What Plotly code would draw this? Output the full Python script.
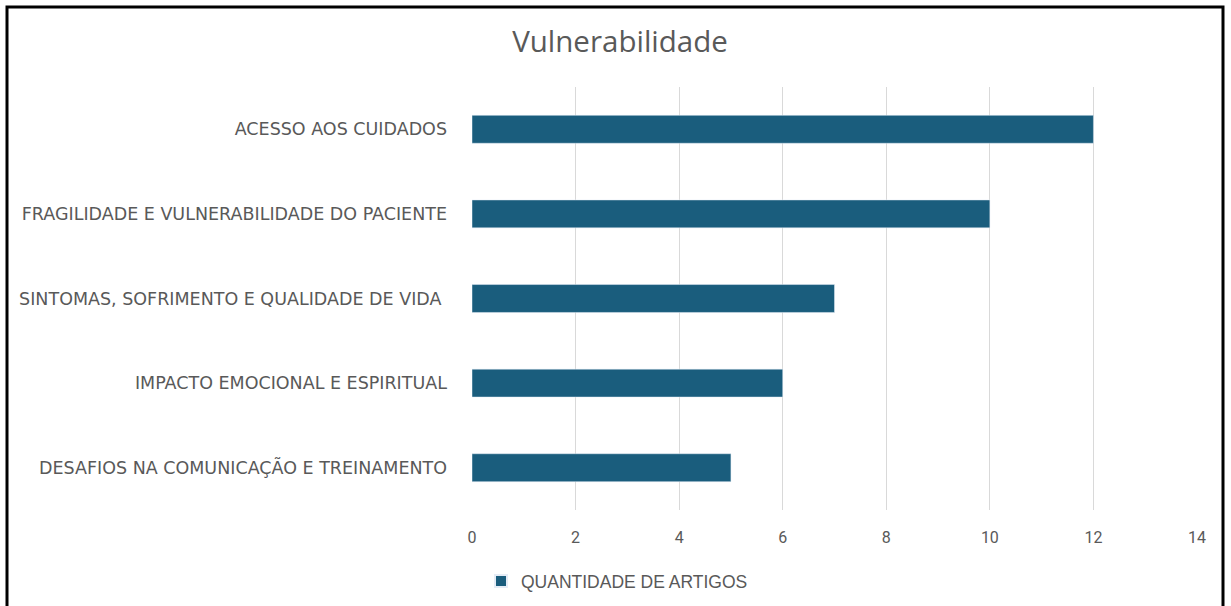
import plotly.graph_objects as go

categories = [
    "ACESSO AOS CUIDADOS",
    "FRAGILIDADE E VULNERABILIDADE DO PACIENTE",
    "SINTOMAS, SOFRIMENTO E QUALIDADE DE VIDA ",
    "IMPACTO EMOCIONAL E ESPIRITUAL",
    "DESAFIOS NA COMUNICAÇÃO E TREINAMENTO",
]
values = [12, 10, 7, 6, 5]
series_name = "QUANTIDADE DE ARTIGOS"
x_ticks = [0, 2, 4, 6, 8, 10, 12, 14]

W, H = 1231, 606
L, R, T, B = 472, 34, 87, 96
pw, ph = W - L - R, H - T - B

def px_x(p):
    return (p - L) / pw

def px_y(p):
    return (H - B - p) / ph

fig = go.Figure()
fig.add_trace(go.Bar(
    y=categories, x=values, orientation="h", name=series_name,
    marker=dict(color="#1a5d7d"), width=0.33, showlegend=True,
))

fig.update_layout(
    width=W, height=H,
    margin=dict(l=L, r=R, t=T, b=B, autoexpand=False),
    paper_bgcolor="white", plot_bgcolor="white",
    title=dict(text="Vulnerabilidade", x=(513 + 727) / 2 / W, xanchor="center", xref="container",
               y=1 - 42 / H, yanchor="middle", yref="container",
               font=dict(family="Open Sans", size=29.5, color="#595959")),
    font=dict(family="DejaVu Sans", size=16, color="#595959"),
    xaxis=dict(range=[0, 14], tickvals=x_ticks, showgrid=True, gridcolor="#d9d9d9",
               gridwidth=1, zeroline=False, showline=False, ticks="",
               ticklabelstandoff=16, tickfont=dict(family="Roboto", size=16, color="#595959")),
    yaxis=dict(categoryorder="array", categoryarray=categories[::-1],
               showgrid=False, zeroline=False, showline=False, ticks="",
               ticklabelstandoff=24, tickfont=dict(family="DejaVu Sans", size=17.5, color="#595959")),
    legend=dict(orientation="h", xref="container", yref="container",
                x=481 / W, xanchor="left", y=1 - 581 / H, yanchor="middle",
                font=dict(family="Liberation Sans", size=17.5, color="#595959"),
                itemwidth=30, itemsizing="constant"),
    bargap=0.67,
    shapes=[dict(type="rect", xref="paper", yref="paper",
                 x0=px_x(7), x1=px_x(1223), y0=px_y(620), y1=px_y(7),
                 line=dict(color="black", width=3), fillcolor="rgba(0,0,0,0)",
                 layer="above")],
)

fig.write_html("out.html", config={"displayModeBar": False},
               post_script="document.body.style.margin='0';")
